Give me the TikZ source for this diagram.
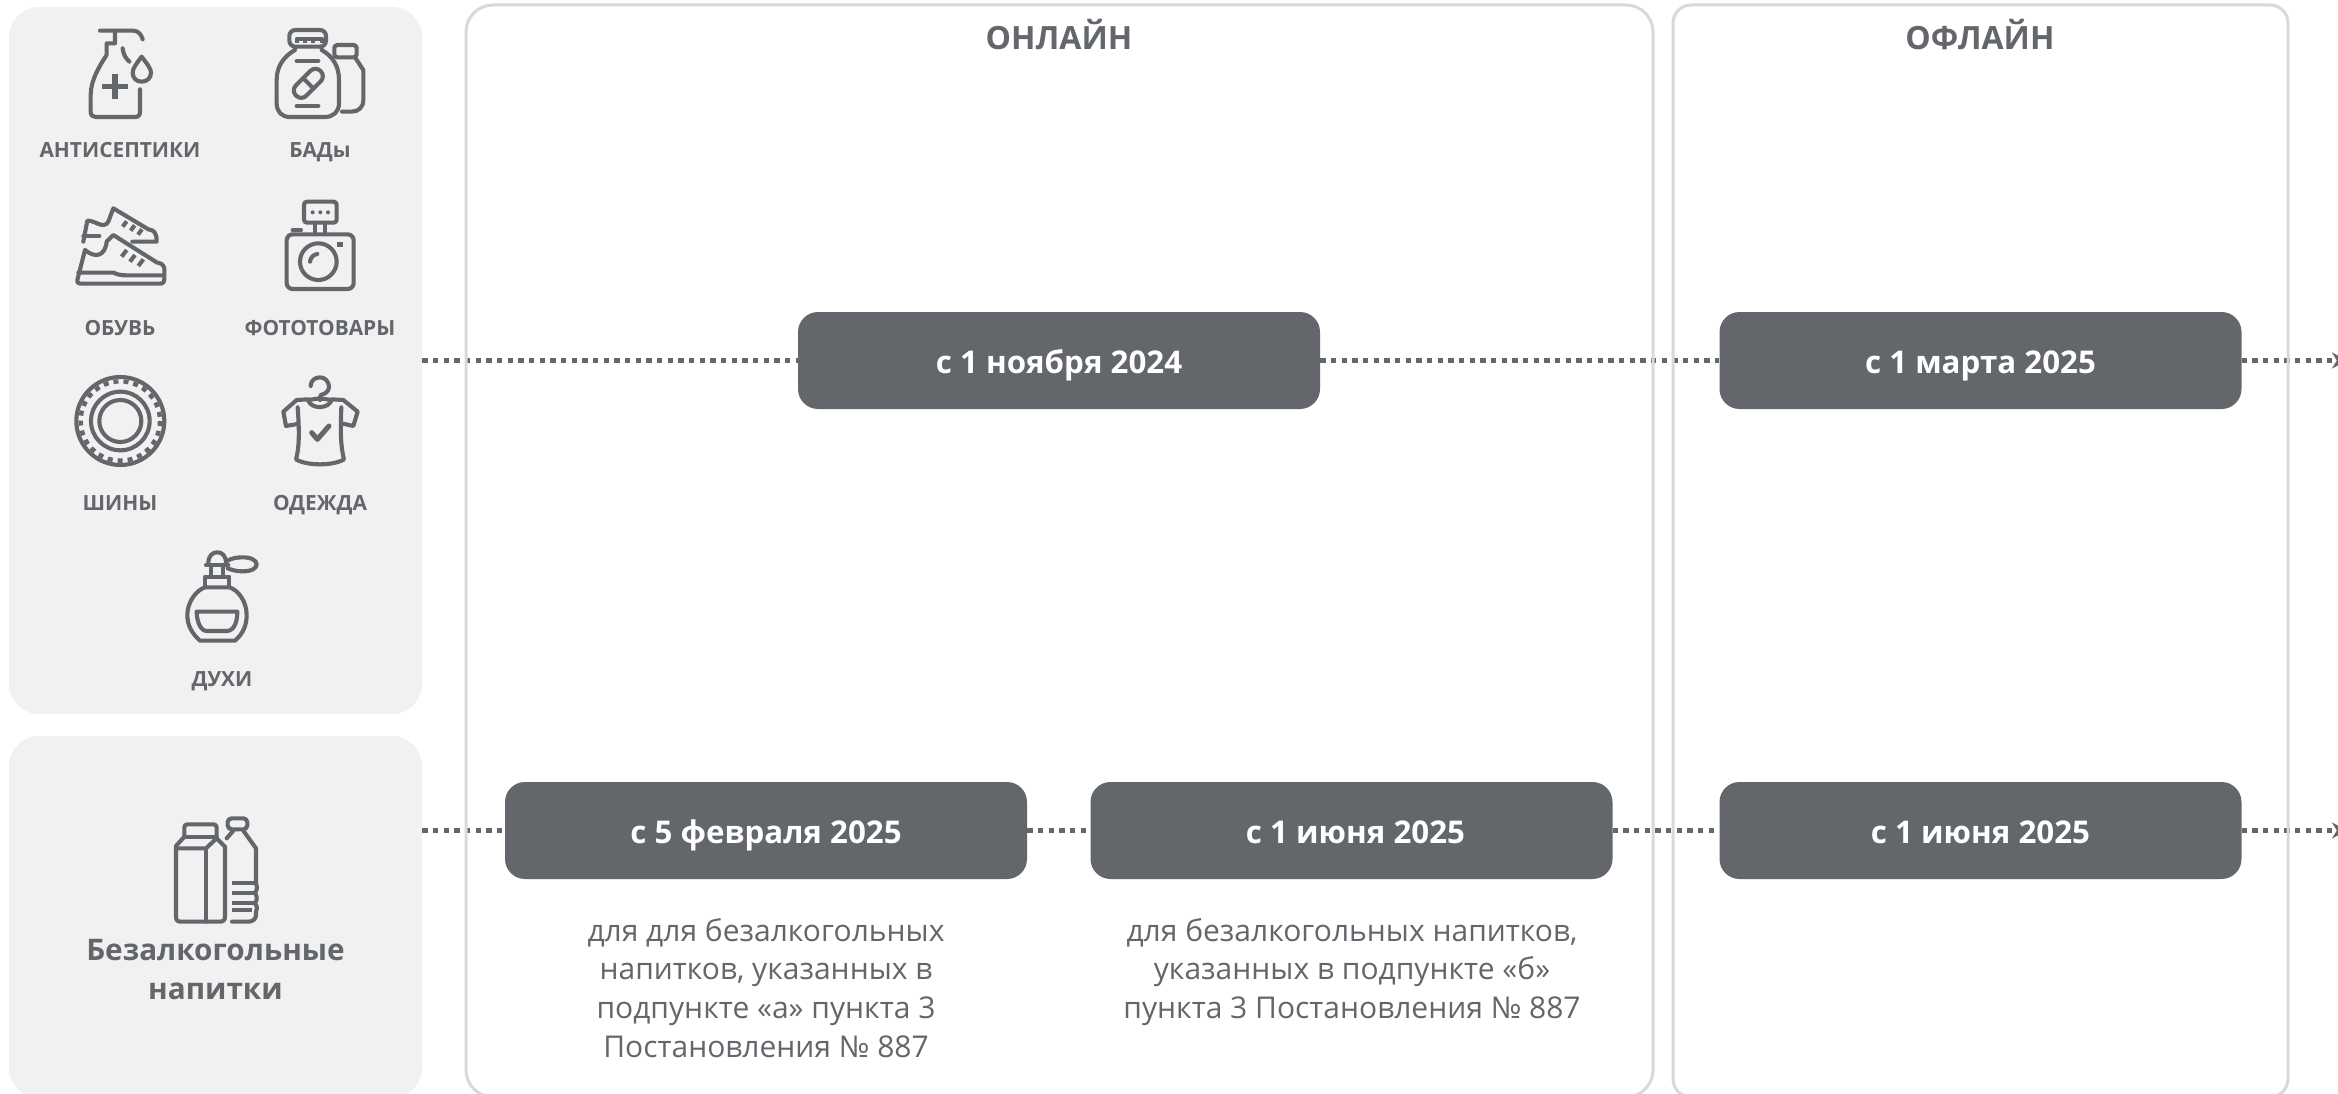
\documentclass[tikz,border=0pt]{standalone}
\usepackage{fontspec}
\setmainfont{Open Sans}
\usetikzlibrary{arrows.meta}
\definecolor{ink}{HTML}{63666A}
\definecolor{panel}{HTML}{F1F1F1}
\definecolor{frame}{HTML}{D9D9D9}
\tikzset{
  panelbox/.style={rectangle,fill=panel,rounded corners=30pt,inner sep=0pt,minimum width=413pt},
  framebox/.style={rectangle,draw=frame,line width=3pt,inner sep=0pt},
  datebox/.style={rectangle,fill=ink,rounded corners=20pt,inner sep=0pt,minimum width=522pt,minimum height=97pt,text=white,text height=26pt,text depth=0pt,font=\fontsize{31.3}{37}\selectfont\bfseries},
  heading/.style={text=ink,inner sep=0pt,anchor=base,font=\fontsize{32}{38}\selectfont\bfseries},
  lbl/.style={text=ink,inner sep=0pt,anchor=base,font=\fontsize{20.9}{25}\selectfont\bfseries},
  bevname/.style={text=ink,inner sep=0pt,align=center,anchor=north,font=\fontsize{29.7}{38.8}\selectfont\bfseries},
  note/.style={text=ink,inner sep=0pt,align=center,anchor=north,font=\fontsize{30}{38.7}\selectfont},
  dotline/.style={draw=ink,line width=5.3pt,line cap=butt,dash pattern=on 5.3pt off 5.37pt},
  dotarrow/.style={dotline,-{Stealth[length=15pt,width=16pt]}},
  icon/.style={draw=ink,line width=4.1pt,line cap=round,line join=round},
  zoomed/.style={x=0.33333pt,y=-0.33333pt},
}
\begin{document}
\begin{tikzpicture}[x=1pt,y=-1pt]
\useasboundingbox (0,0) rectangle (2338,1094);
\fill[white] (0,0) rectangle (2338,1094);
% panels
\node[panelbox,minimum height=707pt] (p1) at (215.5,360.5) {};
\node[panelbox,minimum height=362pt] (p2) at (215.5,917) {};
% date boxes
\node[datebox] (n1) at (1059,360.5) {с 1 ноября 2024};
\node[datebox] (m1) at (1980.5,360.5) {с 1 марта 2025};
\node[datebox] (f2) at (766,830.5) {с 5 февраля 2025};
\node[datebox] (j2) at (1351.5,830.5) {\hspace*{8pt}с 1 июня 2025};
\node[datebox] (m2) at (1980.5,830.5) {с 1 июня 2025};
\coordinate (end1) at (2347,360.5);
\coordinate (end2) at (2347,830.5);
% connectors
\draw[dotline] (p1.east) -- (n1.west);
\draw[dotline] (n1.east) -- (m1.west);
\draw[dotarrow] (m1.east) -- (end1);
\draw[dotline] (p2.east |- f2.west) -- (f2.west);
\draw[dotline] (f2.east) -- (j2.west);
\draw[dotline] (j2.east) -- (m2.west);
\draw[dotarrow] (m2.east) -- (end2);
% frames
\node[framebox,rounded corners=27pt,minimum width=1187pt,minimum height=1092pt] (online) at (1059.5,551) {};
\node[framebox,rounded corners=18pt,minimum width=615pt,minimum height=1092pt] (offline) at (1980.5,551) {};
% headings
\node[heading] (th) at (1059,49.5) {ОНЛАЙН};
\node[heading] (tf) at (1980,49.5) {ОФЛАЙН};
% labels
\node[lbl] (l1) at (120,158) {АНТИСЕПТИКИ};
\node[lbl] (l2) at (320,158) {БАДы};
\node[lbl] (l3) at (120,335) {ОБУВЬ};
\node[lbl] (l4) at (320,335) {ФОТОТОВАРЫ};
\node[lbl] (l5) at (120,510) {ШИНЫ};
\node[lbl] (l6) at (320,510) {ОДЕЖДА};
\node[lbl] (l7) at (222,686) {ДУХИ};
\node[bevname] (bev) at (215.5,939) {Безалкогольные\\напитки};
\node[note] (n5) at (766,918) {для для безалкогольных\\напитков, указанных в\\подпункте «а» пункта 3\\Постановления № 887};
\node[note] (n6) at (1352,918) {для безалкогольных напитков,\\указанных в подпункте «б»\\пункта 3 Постановления № 887};
% antiseptic
\begin{scope}[zoomed]
\draw[icon] (300,92) -- (400,92) .. controls (415,92) and (425,105) .. (428,118);
\draw[icon] (345,92) -- (345,130) -- (320,130) -- (320,165) .. controls (300,195) and (272,240) .. (272,285) -- (272,335) .. controls (272,346) and (278,351) .. (287,351) -- (405,351) .. controls (415,351) and (420,346) .. (420,335) -- (420,268);
\draw[icon] (368,145) .. controls (370,165) and (378,175) .. (388,185);
\draw[icon,line cap=butt,line width=5.5pt] (307,260) -- (383,260) (345,222) -- (345,298);
\draw[icon] (425,170) .. controls (410,190) and (398,205) .. (398,218) .. controls (398,235) and (410,245) .. (425,245) .. controls (440,245) and (453,235) .. (453,218) .. controls (453,205) and (440,190) .. (425,170) -- cycle;
% supplements
\draw[icon,rounded corners=6pt] (868,90) rectangle (978,140);
\draw[icon,line cap=butt] (890,128) -- (890,116) -- (965,116) -- (965,128) (915,116) -- (915,128) (940,116) -- (940,128);
\draw[icon] (885,142) -- (885,150) .. controls (850,170) and (830,200) .. (830,240) -- (830,310) .. controls (830,335) and (845,351) .. (870,351) -- (975,351) .. controls (1000,351) and (1017,335) .. (1017,310) -- (1017,240) .. controls (1017,200) and (1000,170) .. (965,150) -- (965,142);
\draw[icon] (890,183) -- (955,183) (890,318) -- (955,318);
\begin{scope}[rotate around={45:(925,250)}]
\draw[icon,rounded corners=7pt] (873,228) rectangle (977,272);
\draw[icon] (925,228) -- (925,272);
\end{scope}
\draw[icon,rounded corners=3pt] (1003,135) rectangle (1070,172);
\draw[icon] (1065,172) -- (1090,210) -- (1090,300) .. controls (1090,322) and (1075,335) .. (1055,335) -- (1026,335);
% shoes
\draw[icon] (250,725) -- (262,662) .. controls (285,660) and (310,690) .. (325,665) -- (340,625) -- (445,688) .. controls (460,690) and (470,695) .. (470,725) -- (397,725);
\draw[icon] (250,708) -- (298,708);
\draw[icon,line cap=butt] (368,680) -- (380,664) (392,692) -- (404,676) (414,704) -- (426,688);
\draw[icon] (232,840) .. controls (230,847) and (233,851) .. (242,851) -- (480,851) .. controls (490,851) and (493,845) .. (493,835) -- (493,805) .. controls (490,792) and (480,788) .. (470,787) -- (340,705) -- (320,725) .. controls (315,770) and (285,775) .. (255,750) -- cycle;
\draw[icon] (235,818) -- (340,818) .. controls (360,828) and (380,826) .. (400,826) -- (490,826);
\draw[icon,line cap=butt] (365,770) -- (380,750) (390,785) -- (405,765) (415,798) -- (430,778);
% camera
\draw[icon,rounded corners=3pt] (912,605) rectangle (1010,668);
\fill[ink] (938,637) circle (6) (961,637) circle (6) (984,637) circle (6);
\draw[icon] (945,670) -- (945,702) (975,670) -- (975,702);
\draw[icon,rounded corners=6pt] (860,703) rectangle (1061,867);
\draw[icon] (878,691) -- (903,691);
\draw[icon] (955,785) circle[radius=55];
\draw[icon] (930,785) .. controls (932,772) and (940,764) .. (952,762);
\fill[ink] (1012,727) rectangle (1028,741);
\end{scope}
\begin{scope}[zoomed,yshift=-350pt]
% tyre
\draw[icon] (361,213) circle[radius=132];
\draw[ink,line width=4.4pt,dash pattern=on 5pt off 5pt] (361,213) circle[radius=119];
\draw[icon] (361,213) circle[radius=88];
\draw[icon] (361,213) circle[radius=63];
% shirt
\draw[icon] (932,108) .. controls (932,92) and (945,82) .. (960,82) .. controls (975,82) and (987,95) .. (987,110) .. controls (987,125) and (975,132) .. (962,135) -- (960,150);
\draw[icon] (925,150) -- (958,145) -- (995,150);
\draw[icon] (925,152) .. controls (935,178) and (985,178) .. (995,150);
\draw[icon] (925,148) -- (890,150) -- (850,185) -- (858,228) -- (893,222);
\draw[icon] (893,172) .. controls (897,230) and (900,285) .. (888,328) .. controls (920,348) and (1000,348) .. (1032,328) .. controls (1020,280) and (1022,230) .. (1024,172);
\draw[icon] (995,148) -- (1030,150) -- (1073,185) -- (1060,228) -- (1025,220);
\draw[icon,line width=5pt] (935,248) -- (952,268) -- (987,228);
% perfume
\draw[icon] (600,872) -- (705,872) .. controls (730,850) and (740,825) .. (740,795) .. controls (740,755) and (715,720) .. (688,712) -- (615,712) .. controls (590,720) and (562,755) .. (562,795) .. controls (562,825) and (575,850) .. (600,872);
\draw[icon,line cap=butt] (615,712) -- (615,680) -- (688,680) -- (688,712);
\draw[icon,line cap=butt] (632,680) -- (632,645) (670,680) -- (670,645);
\draw[icon] (618,645) -- (685,645);
\draw[icon] (625,640) .. controls (625,615) and (640,607) .. (651,607) .. controls (665,607) and (678,615) .. (678,640);
\draw[icon] (683,632) .. controls (695,625) and (710,622) .. (728,622) .. controls (755,622) and (770,632) .. (770,643) .. controls (770,655) and (755,664) .. (728,664) .. controls (710,664) and (695,660) .. (683,655);
\draw[icon] (590,785) -- (712,785) .. controls (712,810) and (705,843) .. (680,843) -- (620,843) .. controls (600,843) and (590,810) .. (590,785) -- cycle;
\end{scope}
\begin{scope}[zoomed,yshift=-720pt]
% carton
\draw[icon,rounded corners=3pt] (553,350) -- (553,313) -- (650,313) -- (650,350);
\draw[icon] (553,350) -- (650,350);
\draw[icon] (553,350) -- (528,378) -- (528,590) .. controls (528,600) and (532,605) .. (542,605) -- (660,605) .. controls (670,605) and (675,600) .. (675,590) -- (675,380) -- (650,355);
\draw[icon] (528,385) -- (618,385) -- (650,355);
\draw[icon] (618,385) -- (618,605);
% bottle
\draw[icon,rounded corners=4pt] (683,295) rectangle (742,328);
\draw[icon] (680,355) -- (700,332);
\draw[icon] (730,332) -- (768,385) -- (768,490) .. controls (772,500) and (772,510) .. (765,518) .. controls (772,530) and (772,540) .. (765,550) .. controls (772,560) and (772,565) .. (768,575) -- (768,585) .. controls (768,597) and (758,605) .. (745,605) -- (696,605);
\draw[icon,line cap=butt] (695,490) -- (765,490) (695,520) -- (765,520) (695,550) -- (765,550) (695,570) -- (755,570);
\end{scope}
\end{tikzpicture}
\end{document}
